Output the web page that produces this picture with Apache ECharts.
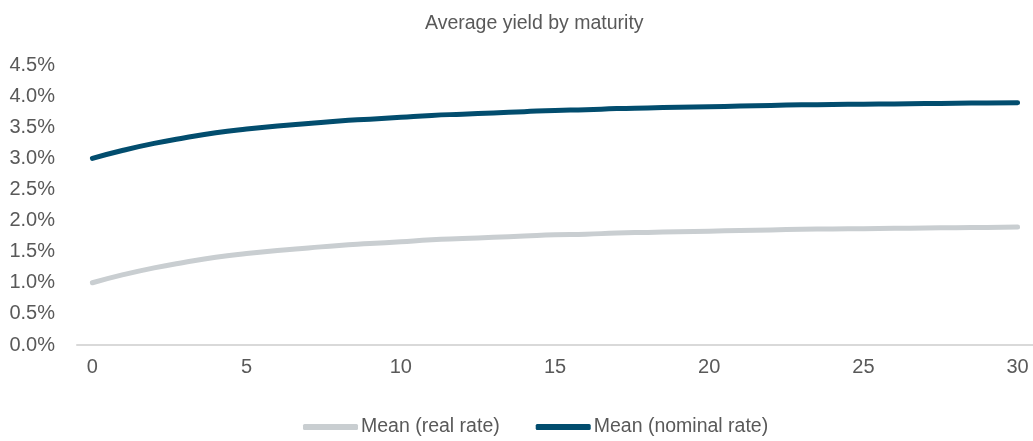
<!DOCTYPE html>
<html>
<head>
<meta charset="utf-8">
<script src="https://cdn.jsdelivr.net/npm/echarts@6/dist/echarts.min.js"></script>
<style>
  html, body { margin: 0; padding: 0; background: #fff; }
  #chart { width: 1033px; height: 441px; }
</style>
</head>
<body>
<div id="chart"></div>
<script>
// Maturity in years
const maturities = [0,1,2,3,4,5,6,7,8,9,10,11,12,13,14,15,16,17,18,19,20,21,22,23,24,25,26,27,28,29,30];

// Mean yield (%) for each maturity
const nominalRate = [3.00,3.13,3.24,3.33,3.41,3.47,3.52,3.56,3.60,3.63,3.66,3.69,3.71,3.73,3.75,3.77,3.78,3.80,3.81,3.82,3.83,3.84,3.85,3.86,3.865,3.87,3.875,3.88,3.885,3.89,3.895];
const realRate    = [1.00,1.13,1.24,1.33,1.41,1.47,1.52,1.56,1.60,1.63,1.66,1.69,1.71,1.73,1.75,1.77,1.78,1.80,1.81,1.82,1.83,1.84,1.85,1.86,1.865,1.87,1.875,1.88,1.885,1.89,1.895];

const seriesNames = ['Mean (real rate)', 'Mean (nominal rate)'];
const titleText = 'Average yield by maturity';

const textColor = '#595959';
const fontFamily = '"Liberation Sans", Arial, sans-serif';

const chart = echarts.init(document.getElementById('chart'), null, { renderer: 'canvas' });

chart.setOption({
  animation: false,
  backgroundColor: '#ffffff',
  title: {
    text: titleText,
    left: 420,
    top: 9,
    textStyle: { color: textColor, fontSize: 19.5, fontWeight: 'normal', fontFamily: fontFamily }
  },
  legend: {
    top: 412,
    left: 298,
    itemWidth: 55,
    itemHeight: 6,
    itemGap: 36,
    textStyle: { color: textColor, fontSize: 19.5, fontFamily: fontFamily, padding: [0, 0, 0, -2] },
    data: [
      { name: seriesNames[0], icon: 'roundRect' },
      { name: seriesNames[1], icon: 'roundRect' }
    ]
  },
  grid: { left: 77, right: 0, top: 65, bottom: 96, containLabel: false },
  xAxis: {
    type: 'category',
    data: maturities,
    boundaryGap: true,
    axisLine: { lineStyle: { color: '#D9D9D9', width: 2 } },
    axisTick: { show: false },
    axisLabel: { interval: 4, color: textColor, fontSize: 20, fontFamily: fontFamily, margin: 12 },
    splitLine: { show: false }
  },
  yAxis: {
    type: 'value',
    min: 0,
    max: 4.5,
    interval: 0.5,
    axisLine: { show: false },
    axisTick: { show: false },
    splitLine: { show: false },
    axisLabel: {
      color: textColor, fontSize: 20, fontFamily: fontFamily, margin: 22,
      formatter: v => v.toFixed(1) + '%'
    }
  },
  series: [
    {
      name: seriesNames[0],
      type: 'line',
      data: realRate,
      smooth: true,
      symbol: 'none',
      color: '#C9CED1',
      lineStyle: { width: 5, color: '#C9CED1', cap: 'round', join: 'round' }
    },
    {
      name: seriesNames[1],
      type: 'line',
      data: nominalRate,
      smooth: true,
      symbol: 'none',
      color: '#024D6E',
      lineStyle: { width: 5, color: '#024D6E', cap: 'round', join: 'round' }
    }
  ]
});
</script>
</body>
</html>
